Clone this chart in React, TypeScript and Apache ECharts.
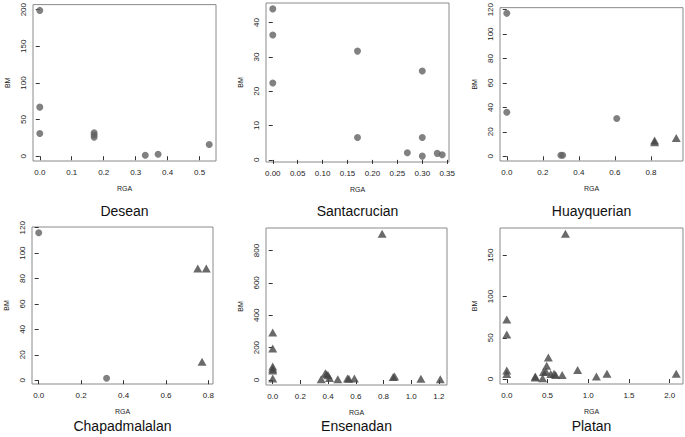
import React, { useEffect, useRef } from "react";
import * as echarts from "echarts";

// ---- data ----
const panelTitles = ["Desean", "Santacrucian", "Huayquerian", "Chapadmalalan", "Ensenadan", "Platan"];

const deseanCircX = [0, 0, 0, 0.17, 0.17, 0.17, 0.33, 0.37, 0.53];
const deseanCircY = [199, 67, 31, 32, 29, 26, 1.4, 2.7, 16];
const deseanTriX: number[] = [];
const deseanTriY: number[] = [];

const santaCircX = [0, 0, 0, 0.17, 0.17, 0.27, 0.30, 0.30, 0.30, 0.33, 0.34];
const santaCircY = [44, 36.4, 22.4, 31.7, 6.5, 2.1, 25.9, 6.5, 1.1, 1.9, 1.5];
const santaTriX: number[] = [];
const santaTriY: number[] = [];

const huayCircX = [0, 0, 0.30, 0.31, 0.61];
const huayCircY = [117, 36, 0.8, 0.8, 31];
const huayTriX = [0.82, 0.82, 0.94];
const huayTriY = [11.5, 13, 15];

const chapCircX = [0, 0.32];
const chapCircY = [116, 1.6];
const chapTriX = [0.75, 0.79, 0.77];
const chapTriY = [88, 88, 14.5];

const enseCircX: number[] = [];
const enseCircY: number[] = [];
const enseTriX = [0, 0, 0, 0, 0, 0, 0.35, 0.38, 0.39, 0.40, 0.41, 0.47, 0.54, 0.55, 0.59, 0.79, 0.87, 0.88, 1.07, 1.21];
const enseTriY = [293, 195, 84, 70, 58, 10, 5, 42, 35, 30, 12, 5, 10, 7, 10, 903, 18, 22, 8, 5];

const platCircX: number[] = [];
const platCircY: number[] = [];
const platTriX = [0, 0, 0, 0, 0.35, 0.35, 0.44, 0.45, 0.48, 0.49, 0.51, 0.54, 0.58, 0.60, 0.68, 0.72, 0.87, 1.10, 1.23, 2.08];
const platTriY = [72, 54, 10.5, 6, 2, 3, 1, 8.5, 9, 16, 26, 6, 6.4, 5, 5, 176, 11, 3, 6.4, 6.4];

// tick values
const xTicks = [
  [0, 0.1, 0.2, 0.3, 0.4, 0.5],
  [0, 0.05, 0.1, 0.15, 0.2, 0.25, 0.3, 0.35],
  [0, 0.2, 0.4, 0.6, 0.8],
  [0, 0.2, 0.4, 0.6, 0.8],
  [0, 0.2, 0.4, 0.6, 0.8, 1.0, 1.2],
  [0, 0.5, 1.0, 1.5, 2.0],
];
const yTicks = [
  [0, 50, 100, 150, 200],
  [0, 10, 20, 30, 40],
  [0, 20, 40, 60, 80, 100, 120],
  [0, 20, 40, 60, 80, 100, 120],
  [0, 200, 400, 600, 800],
  [0, 50, 100, 150],
];
const xDecimals = [1, 2, 1, 1, 1, 1];

const circX = [deseanCircX, santaCircX, huayCircX, chapCircX, enseCircX, platCircX];
const circY = [deseanCircY, santaCircY, huayCircY, chapCircY, enseCircY, platCircY];
const triX = [deseanTriX, santaTriX, huayTriX, chapTriX, enseTriX, platTriX];
const triY = [deseanTriY, santaTriY, huayTriY, chapTriY, enseTriY, platTriY];

// ---- layout ----
const grids = [
  { left: 33, top: 2, width: 183, height: 159 },
  { left: 266, top: 3, width: 183, height: 159 },
  { left: 500, top: 5, width: 183, height: 156 },
  { left: 32, top: 227, width: 181, height: 157 },
  { left: 266, top: 228, width: 181, height: 157 },
  { left: 500, top: 228, width: 183, height: 156 },
];

const FONT = "'Liberation Sans', Arial, sans-serif";

function extent(vals: number[]) {
  const mn = Math.min(...vals);
  const mx = Math.max(...vals);
  const pad = (mx - mn) * 0.04;
  return [mn - pad, mx + pad];
}

export default function App() {
  const ref = useRef<HTMLDivElement>(null);
  useEffect(() => {
    document.body.style.margin = "0";
    if (!ref.current) return;
    const chart = echarts.init(ref.current, undefined, { renderer: "svg" });

    const xAxis: any[] = [];
    const yAxis: any[] = [];
    const series: any[] = [];
    const graphic: any[] = [];

    for (let i = 0; i < 6; i++) {
      const xs = circX[i].concat(triX[i]);
      const ys = circY[i].concat(triY[i]);
      const [xmin, xmax] = extent(xs);
      const [ymin, ymax] = extent(ys);
      const dec = xDecimals[i];
      xAxis.push({
        type: "value",
        gridIndex: i,
        min: xmin,
        max: xmax,
        axisLine: { show: false },
        splitLine: { show: false },
        axisTick: { show: true, length: 4, customValues: xTicks[i], lineStyle: { color: "#333" } },
        axisLabel: {
          customValues: xTicks[i],
          formatter: (v: number) => v.toFixed(dec),
          fontSize: 8,
          color: "#222",
          margin: 7,
          fontFamily: FONT,
        },
        name: "RGA",
        nameLocation: "middle",
        nameGap: 24,
        nameTextStyle: { fontSize: 7, color: "#222", fontFamily: FONT },
      });
      yAxis.push({
        type: "value",
        gridIndex: i,
        min: ymin,
        max: ymax,
        axisLine: { show: false },
        splitLine: { show: false },
        axisTick: { show: true, length: 4, customValues: yTicks[i], lineStyle: { color: "#333" } },
        axisLabel: {
          customValues: yTicks[i],
          formatter: (v: number) => String(v),
          fontSize: 8,
          color: "#222",
          margin: 6,
          rotate: 90,
          fontFamily: FONT,
        },
        name: "BM",
        nameLocation: "middle",
        nameGap: 22,
        nameRotate: 90,
        nameTextStyle: { fontSize: 7, color: "#222", fontFamily: FONT },
      });
      if (circX[i].length) {
        series.push({
          type: "scatter",
          xAxisIndex: i,
          yAxisIndex: i,
          symbol: "circle",
          symbolSize: 7,
          itemStyle: { color: "#616161" },
          data: circX[i].map((x, k) => [x, circY[i][k]]),
        });
      }
      if (triX[i].length) {
        series.push({
          type: "scatter",
          xAxisIndex: i,
          yAxisIndex: i,
          symbol: "triangle",
          symbolSize: [9, 8],
          itemStyle: { color: "#454545" },
          data: triX[i].map((x, k) => [x, triY[i][k]]),
        });
      }
      const g = grids[i];
      graphic.push({
        type: "text",
        x: g.left + g.width / 2,
        y: i < 3 ? 204 : 419,
        style: {
          text: panelTitles[i],
          fontSize: 14,
          fontFamily: FONT,
          fill: "#111",
          textAlign: "center",
          textVerticalAlign: "top",
        },
      });
    }

    chart.setOption({
      animation: false,
      backgroundColor: "#fff",
      grid: grids.map((g) => ({
        ...g,
        show: true,
        borderColor: "#8a8a8a",
        borderWidth: 1,
        backgroundColor: "transparent",
        containLabel: false,
      })),
      xAxis,
      yAxis,
      series,
      graphic,
    });
    return () => chart.dispose();
  }, []);
  return <div ref={ref} style={{ width: 685, height: 437 }} />;
}
